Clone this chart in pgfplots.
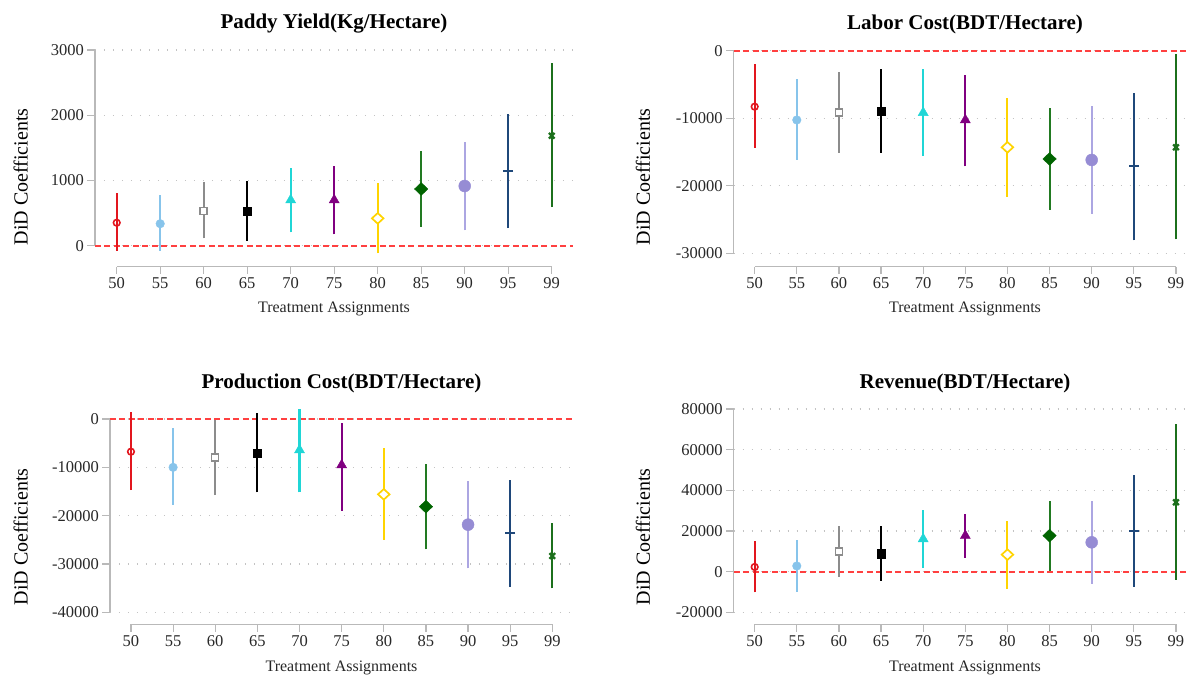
\documentclass[border=0pt]{standalone}
\usepackage{fontspec}
\setmainfont{Liberation Serif}
\usepackage{pgfplots}
\pgfplotsset{compat=1.18}

\definecolor{c50}{RGB}{226,22,30}
\definecolor{c55}{RGB}{135,196,235}
\definecolor{c60}{RGB}{140,140,140}
\definecolor{c65}{RGB}{0,0,0}
\definecolor{c70}{RGB}{32,214,214}
\definecolor{c75}{RGB}{128,0,128}
\definecolor{c80}{RGB}{255,212,0}
\definecolor{c85l}{RGB}{34,122,34}
\definecolor{c85m}{RGB}{0,100,0}
\definecolor{c90l}{RGB}{172,166,226}
\definecolor{c90m}{RGB}{150,140,212}
\definecolor{c95}{RGB}{31,72,122}
\definecolor{c99}{RGB}{28,112,28}
\definecolor{axgray}{RGB}{185,185,185}
\definecolor{gridgray}{RGB}{195,195,195}
\definecolor{zerored}{RGB}{255,64,64}
\definecolor{tickcol}{RGB}{40,40,40}

\pgfplotsset{
  did/.style={
    scale only axis,
    xmin=-0.5, xmax=10.5,
    xtick={0,1,2,3,4,5,6,7,8,9,10},
    xticklabels={50,55,60,65,70,75,80,85,90,95,99},
    axis line style={draw=none},
    tick align=outside,
    xtick pos=left, ytick pos=left,
    major tick length=7.5pt,
    xtick style={draw=axgray, line width=1.2pt},
    ytick style={draw=axgray, line width=1.2pt},
    ymajorgrids,
    major grid style={draw=gridgray, line width=1.3pt, dash pattern=on 1.3pt off 7.7pt},
    scaled y ticks=false,
    /pgf/number format/assume math mode=true,
    yticklabel style={/pgf/number format/fixed, /pgf/number format/1000 sep={},
      font=\fontsize{16.5}{18}\selectfont, text=tickcol},
    xticklabel style={font=\fontsize{16.5}{18}\selectfont, text=tickcol},
    clip=false,
  },
  zeroline/.style={draw=zerored, line width=1.8pt, dash pattern=on 6pt off 3.5pt, forget plot},
  ln/.style={line width=2.1pt, mark=none, forget plot},
  ln50/.style={ln, draw=c50}, ln55/.style={ln, draw=c55}, ln60/.style={ln, draw=c60},
  ln65/.style={ln, draw=c65}, ln70/.style={ln, draw=c70}, ln75/.style={ln, draw=c75},
  ln80/.style={ln, draw=c80}, ln85/.style={ln, draw=c85l}, ln90/.style={ln, draw=c90l},
  ln95/.style={ln, draw=c95}, ln99/.style={ln, draw=c99},
  mk50/.style={only marks, forget plot, mark=o, mark size=3.3pt, mark options={draw=c50, fill=white, line width=1.6pt}},
  mk55/.style={only marks, forget plot, mark=*, mark size=4.3pt, mark options={draw=c55, fill=c55}},
  mk60/.style={only marks, forget plot, mark=square*, mark size=3.5pt, mark options={draw=c60, fill=white, line width=1.5pt}},
  mk65/.style={only marks, forget plot, mark=square*, mark size=4.3pt, mark options={draw=c65, fill=c65}},
  mk70/.style={only marks, forget plot, mark=triangle*, mark size=5.8pt, mark options={draw=c70, fill=c70}},
  mk75/.style={only marks, forget plot, mark=triangle*, mark size=5.8pt, mark options={draw=c75, fill=c75}},
  mk80/.style={only marks, forget plot, mark=diamond*, mark size=5.3pt, mark options={draw=c80, fill=white, line width=1.7pt, xscale=1.45}},
  mk85/.style={only marks, forget plot, mark=diamond*, mark size=6.4pt, mark options={draw=c85m, fill=c85m, xscale=1.4}},
  mk90/.style={only marks, forget plot, mark=*, mark size=6pt, mark options={draw=c90m, fill=c90m}},
  mk95/.style={only marks, forget plot, mark=-, mark size=5pt, mark options={draw=c95, line width=2pt}},
  mk99/.style={only marks, forget plot, mark=x, mark size=4pt, mark options={draw=c99, line width=2.3pt}},
}

% #1 position, #2 estimate, #3 lower, #4 upper, #5 treatment key
\newcommand{\ci}[5]{%
  \addplot[ln#5] coordinates {(#1,#3) (#1,#4)};
  \addplot[mk#5] coordinates {(#1,#2)};
}

\begin{document}
\begin{tikzpicture}[x=1pt,y=1pt]
\useasboundingbox (0,0) rectangle (1190,674);

% ---------------- Paddy Yield
\begin{axis}[did, at={(94.95pt,407.3pt)}, anchor=south west,
  width=478.5pt, height=216.7pt, ymin=-322, ymax=3000, ytick={0,1000,2000,3000}]
\draw[axgray, line width=1.2pt] (axis cs:-0.5,0) -- (axis cs:-0.5,3000);
\draw[axgray, line width=1.2pt] (axis cs:0,-322) -- (axis cs:10,-322);
\addplot[zeroline] coordinates {(-0.5,0) (10.5,0)};
\ci{0}{352}{-77}{802}{50}
\ci{1}{337}{-77}{777}{55}
\ci{2}{531}{112}{971}{60}
\ci{3}{531}{77}{991}{65}
\ci{4}{700}{204}{1185}{70}
\ci{5}{700}{174}{1226}{75}
\ci{6}{419}{-118}{966}{80}
\ci{7}{869}{291}{1446}{85}
\ci{8}{915}{235}{1594}{90}
\ci{9}{1145}{271}{2018}{95}
\ci{10}{1686}{593}{2805}{99}
\end{axis}

% ---------------- Labor Cost
\begin{axis}[did, at={(733.6pt,407.3pt)}, anchor=south west,
  width=463.4pt, height=216pt, ymin=-31984, ymax=0, ytick={-30000,-20000,-10000,0}]
\draw[axgray, line width=1.2pt] (axis cs:-0.5,-30000) -- (axis cs:-0.5,0);
\draw[axgray, line width=1.2pt] (axis cs:0,-31984) -- (axis cs:10,-31984);
\addplot[zeroline] coordinates {(-0.5,0) (10.5,0)};
\ci{0}{-8288}{-14356}{-1973}{50}
\ci{1}{-10261}{-16182}{-4144}{55}
\ci{2}{-9176}{-15096}{-3157}{60}
\ci{3}{-8979}{-15096}{-2713}{65}
\ci{4}{-9176}{-15590}{-2763}{70}
\ci{5}{-10261}{-17119}{-3552}{75}
\ci{6}{-14307}{-21608}{-6956}{80}
\ci{7}{-16033}{-23532}{-8535}{85}
\ci{8}{-16181}{-24124}{-8189}{90}
\ci{9}{-17119}{-28071}{-6216}{95}
\ci{10}{-14307}{-27923}{-493}{99}
\end{axis}

% ---------------- Production Cost
\begin{axis}[did, at={(109.9pt,49.7pt)}, anchor=south west,
  width=463.5pt, height=215.9pt, ymin=-42483, ymax=2200, ytick={-40000,-30000,-20000,-10000,0}]
\draw[axgray, line width=1.2pt] (axis cs:-0.5,-40000) -- (axis cs:-0.5,0);
\draw[axgray, line width=1.2pt] (axis cs:0,-42483) -- (axis cs:10,-42483);
\addplot[zeroline] coordinates {(-0.5,0) (10.5,0)};
\ci{0}{-6759}{-14690}{1517}{50}
\ci{1}{-10000}{-17793}{-1931}{55}
\ci{2}{-7931}{-15724}{-200}{60}
\ci{3}{-7034}{-15172}{1241}{65}
\ci{4}{-6414}{-15172}{2069}{70}
\ci{5}{-9517}{-19034}{-897}{75}
\ci{6}{-15586}{-25034}{-6069}{80}
\ci{7}{-18138}{-26966}{-9310}{85}
\ci{8}{-21862}{-30897}{-12828}{90}
\ci{9}{-23517}{-34690}{-12621}{95}
\ci{10}{-28345}{-35034}{-21586}{99}
\end{axis}

% ---------------- Revenue
\begin{axis}[did, at={(733.6pt,49.7pt)}, anchor=south west,
  width=463.4pt, height=215.3pt, ymin=-25903, ymax=80000, ytick={-20000,0,20000,40000,60000,80000}]
\draw[axgray, line width=1.2pt] (axis cs:-0.5,-20000) -- (axis cs:-0.5,80000);
\draw[axgray, line width=1.2pt] (axis cs:0,-25903) -- (axis cs:10,-25903);
\addplot[zeroline] coordinates {(-0.5,0) (10.5,0)};
\ci{0}{2295}{-10164}{15246}{50}
\ci{1}{2787}{-9836}{15410}{55}
\ci{2}{9836}{-2459}{22623}{60}
\ci{3}{8852}{-4426}{22623}{65}
\ci{4}{16066}{1967}{30164}{70}
\ci{5}{17705}{6721}{28361}{75}
\ci{6}{8361}{-8361}{25082}{80}
\ci{7}{17705}{492}{34754}{85}
\ci{8}{14426}{-6066}{34590}{90}
\ci{9}{20000}{-7541}{47377}{95}
\ci{10}{34098}{-3934}{72623}{99}
\end{axis}

% titles
\begin{scope}[every node/.style={font=\fontsize{21}{24}\selectfont\bfseries}]
\node at (334,650) {Paddy Yield(Kg/Hectare)};
\node at (965,650) {Labor Cost(BDT/Hectare)};
\node at (341.5,291) {Production Cost(BDT/Hectare)};
\node at (965,291) {Revenue(BDT/Hectare)};
\end{scope}
% x labels
\begin{scope}[every node/.style={font=\fontsize{16}{18}\selectfont, text=tickcol}]
\node at (334,365) {Treatment Assignments};
\node at (965,365) {Treatment Assignments};
\node at (341.5,6) {Treatment Assignments};
\node at (965,6) {Treatment Assignments};
\end{scope}
% y labels
\begin{scope}[every node/.style={font=\fontsize{20}{22}\selectfont, rotate=90}]
\node at (20.7,497) {DiD Coefficients};
\node at (643,497) {DiD Coefficients};
\node at (20.7,137) {DiD Coefficients};
\node at (643,137) {DiD Coefficients};
\end{scope}
\end{tikzpicture}
\end{document}
